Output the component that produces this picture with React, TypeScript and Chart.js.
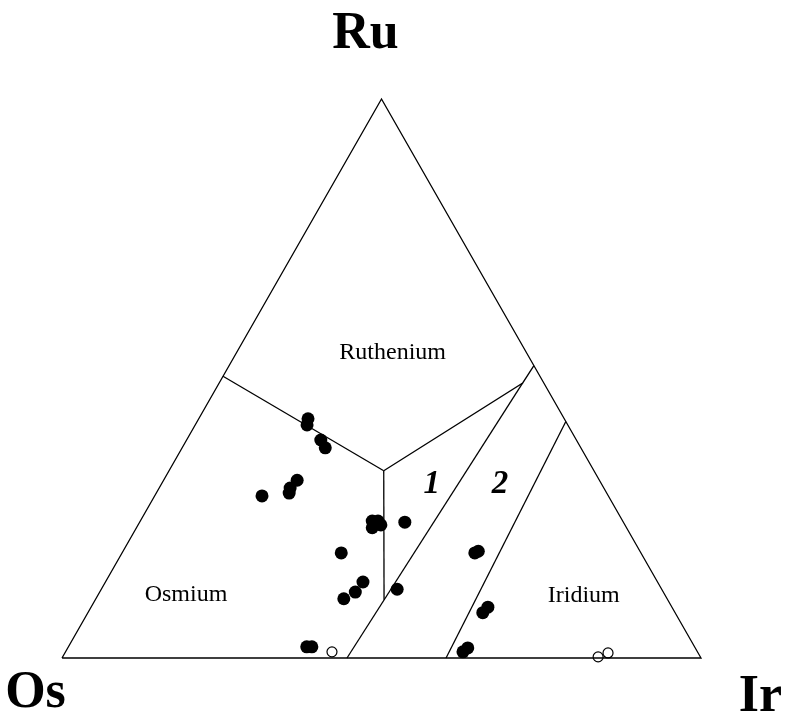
import React, { useEffect, useRef } from "react";
import { Chart, registerables } from "chart.js";

Chart.register(...registerables);

// Ternary compositions (percent). Os = 100 - Ru - Ir
const filledRu = [42.8, 41.7, 39.0, 37.6, 31.8, 30.4, 29.5, 29.0, 24.5, 24.5, 23.8, 23.3, 24.0, 24.3, 18.8, 13.6, 11.8, 10.6, 12.3, 2.0, 2.0, 18.8, 19.1, 9.1, 8.1, 1.8, 1.1];
const filledIr = [17.1, 17.5, 21.0, 22.4, 20.9, 20.5, 20.8, 16.8, 36.3, 37.2, 38.0, 36.9, 37.1, 41.5, 34.3, 40.3, 40.0, 38.8, 46.3, 37.3, 38.1, 55.2, 55.6, 62.1, 61.8, 62.6, 62.2];
const openRu = [1.1, 0.2, 0.9];
const openIr = [41.7, 83.8, 85.0];

// Field boundaries as [Ru, Ir] vertices
const triangleRu = [0, 100, 0, 0];
const triangleIr = [0, 0, 100, 0];
const boundaryOsRuRu = [50.4, 33.5];
const boundaryOsRuIr = [0, 33.6];
const boundaryRuIrRu = [33.5, 49.2, 52.3];
const boundaryRuIrIr = [33.6, 47.5, 47.7];
const boundaryVertRu = [33.5, 10.4];
const boundaryVertIr = [33.6, 45.2];
const boundary1Ru = [49.2, 0];
const boundary1Ir = [47.5, 44.6];
const boundary2Ru = [42.3, 0];
const boundary2Ir = [57.7, 60.1];

const labelTexts = ["Ruthenium", "Osmium", "Iridium", "1", "2", "Ru", "Os", "Ir"];
const labelRu = [54.7, 11.4, 11.1, 31.1, 31.1, 111.6, -6.3, -7.0];
const labelIr = [24.4, 13.7, 76.1, 42.3, 53.0, -8.3, -1.0, 112.8];
const labelKind = ["field", "field", "field", "num", "num", "vertex", "vertex", "vertex"];

const toXY = (ru: number, ir: number) => ({ x: ir / 100 + ru / 200, y: ru / 100 });
const pts = (ru: number[], ir: number[]) => ru.map((r, i) => toXY(r, ir[i]));

const lineDs = (ru: number[], ir: number[]) => ({
  type: "line" as const,
  data: pts(ru, ir),
  borderColor: "#000",
  borderWidth: 1.3,
  pointRadius: 0,
  fill: false,
  showLine: true,
  clip: false as any,
});

const labelPlugin = {
  id: "ternaryLabels",
  afterDraw(chart: any) {
    const ctx = chart.ctx;
    const xs = chart.scales.x;
    const ys = chart.scales.y;
    ctx.save();
    ctx.fillStyle = "#000";
    ctx.textAlign = "center";
    ctx.textBaseline = "middle";
    labelTexts.forEach((t, i) => {
      const p = toXY(labelRu[i], labelIr[i]);
      const k = labelKind[i];
      if (k === "vertex") ctx.font = "bold 52px 'Liberation Serif'";
      else if (k === "num") ctx.font = "italic bold 33px 'Liberation Serif'";
      else ctx.font = "24px 'Liberation Serif'";
      ctx.fillText(t, xs.getPixelForValue(p.x), ys.getPixelForValue(p.y));
    });
    ctx.restore();
  },
};

export default function App() {
  const ref = useRef<HTMLCanvasElement>(null);
  useEffect(() => {
    if (!ref.current) return;
    const chart = new Chart(ref.current, {
      type: "scatter",
      data: {
        datasets: [
          lineDs(triangleRu, triangleIr),
          lineDs(boundaryOsRuRu, boundaryOsRuIr),
          lineDs(boundaryRuIrRu, boundaryRuIrIr),
          lineDs(boundaryVertRu, boundaryVertIr),
          lineDs(boundary1Ru, boundary1Ir),
          lineDs(boundary2Ru, boundary2Ir),
          {
            data: pts(filledRu, filledIr),
            backgroundColor: "#000",
            borderColor: "#000",
            pointRadius: 6.5,
            borderWidth: 0,
            clip: false as any,
          },
          {
            data: pts(openRu, openIr),
            backgroundColor: "#fff",
            borderColor: "#000",
            pointRadius: 5,
            borderWidth: 1.2,
            clip: false as any,
          },
        ] as any,
      },
      options: {
        animation: false,
        responsive: false,
        maintainAspectRatio: false,
        layout: { padding: { left: 62, right: 86, top: 99, bottom: 62 } },
        plugins: { legend: { display: false }, tooltip: { enabled: false } },
        scales: {
          x: { type: "linear", min: 0, max: 1, display: false },
          y: { type: "linear", min: 0, max: 1, display: false },
        },
      },
      plugins: [labelPlugin],
    });
    return () => chart.destroy();
  }, []);
  return (
    <div style={{ position: "absolute", left: 0, top: 0, width: 787, height: 720, background: "#fff" }}>
      <canvas ref={ref} width={787} height={720} style={{ width: 787, height: 720 }} />
    </div>
  );
}
